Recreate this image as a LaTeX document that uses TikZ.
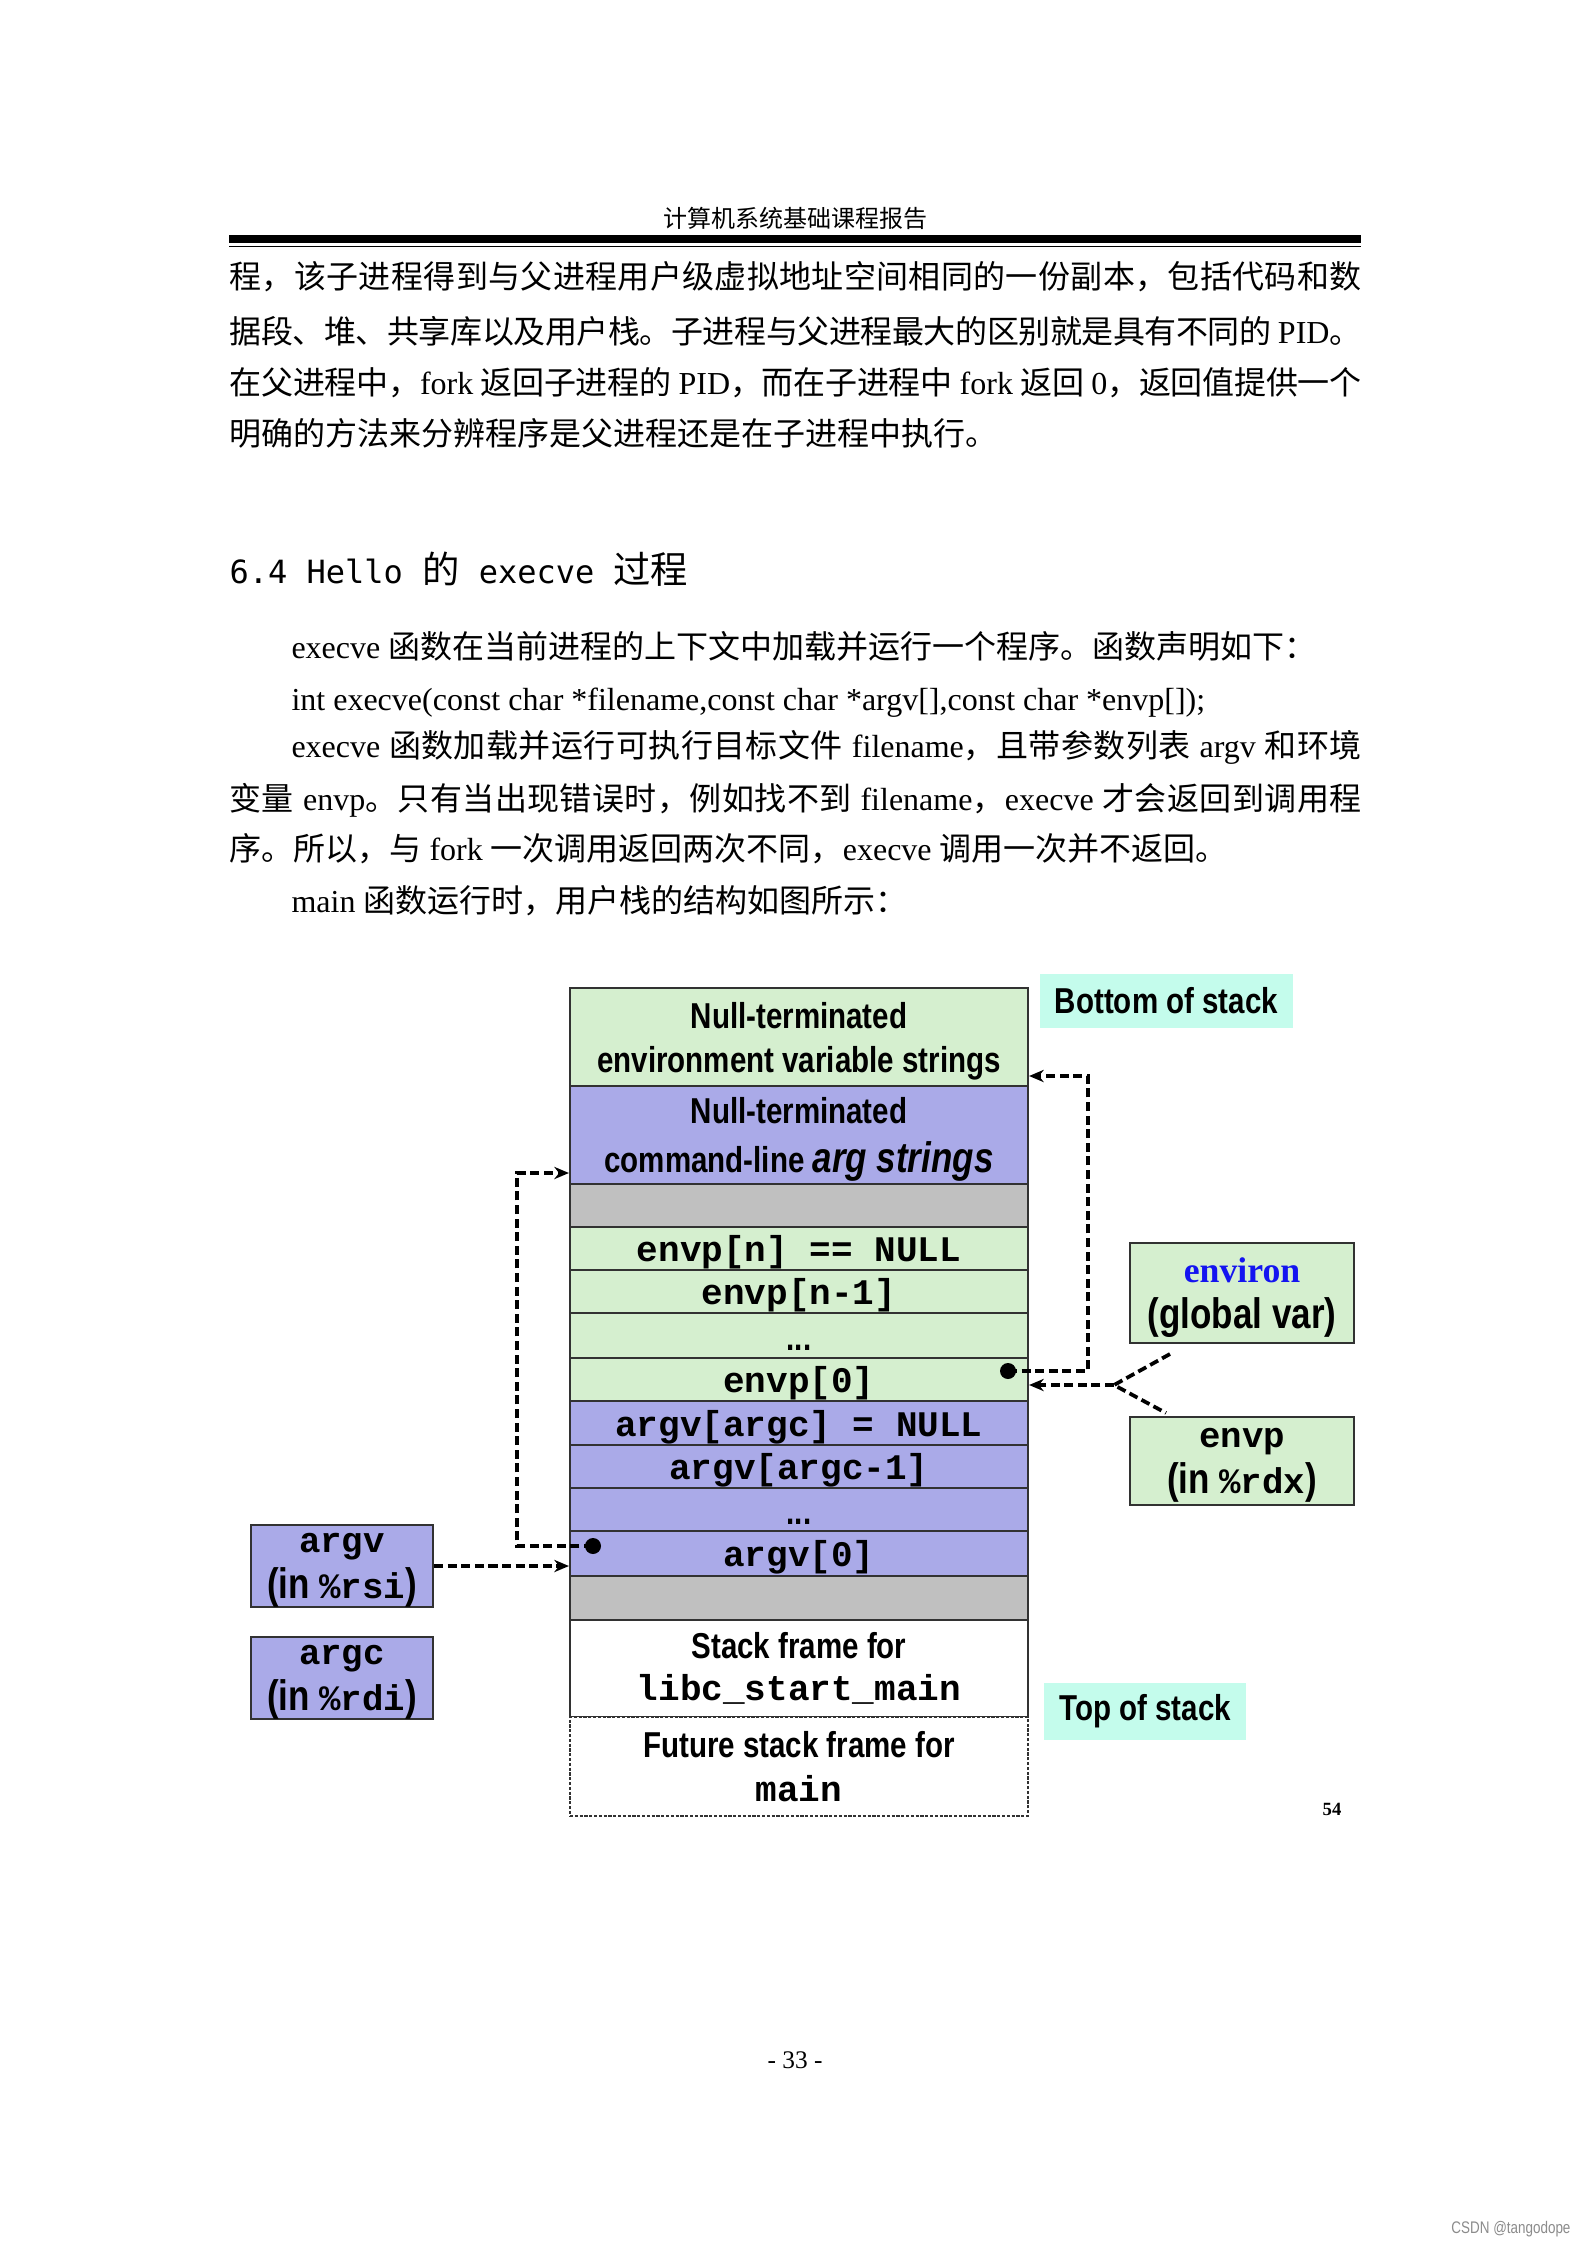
\documentclass[tikz,border=0pt]{standalone}
\usepackage{fontspec}
\setmainfont{Liberation Serif}
\newfontfamily\cjk{Noto Sans CJK SC}
\newfontfamily\nsf{Liberation Sans}[FakeStretch=0.82]
\newfontfamily\tmono{Liberation Mono}
\newfontfamily\hmono{DejaVu Sans Mono}
\newfontfamily\csdnf{Liberation Sans}[FakeStretch=0.8]
\usetikzlibrary{arrows.meta}
\newcommand\zh[1]{{\cjk #1}}
\let\zhend\relax
\def\zhloop#1{\ifx#1\zhend\else#1\hskip0pt plus 1pt minus 0.4pt\relax\expandafter\zhloop\fi}
\newcommand\zhs[1]{{\cjk\zhloop#1\zhend}}
\newcommand\msf{\nsf\bfseries\fontsize{16}{17}\selectfont}
\newcommand\mtt{\tmono\bfseries\fontsize{13.4}{17}\selectfont}
\newcommand\celldots{\vphantom{Ag}\smash{\raisebox{-2.5pt}{...}}}
\definecolor{cgreen}{RGB}{213,239,207}
\definecolor{cpurple}{RGB}{170,170,232}
\definecolor{cgray}{RGB}{192,192,192}
\definecolor{ccyan}{RGB}{196,252,236}
\definecolor{cborder}{RGB}{50,50,50}
\definecolor{cblue}{RGB}{20,20,240}
\begin{document}
\begin{tikzpicture}[x=0.375pt,y=-0.375pt,
  body/.style={anchor=base west, inner sep=0pt, font=\fontsize{12}{14}\selectfont},
  cell/.style={draw=cborder, line width=0.8pt, minimum width=171.75pt, inner sep=0pt, align=center,
    font=\nsf\bfseries\fontsize{13.5}{16.5}\selectfont},
  mcell/.style={cell, text depth=0pt, font=\tmono\bfseries\fontsize{13.5}{16}\selectfont},
  sidebox/.style={draw=cborder, line width=0.8pt, inner sep=0pt, align=center, text depth=-1.8pt, font=\fontsize{16}{17}\selectfont},
  tagbox/.style={fill=ccyan, inner sep=0pt, font=\nsf\bfseries\fontsize{13.5}{16}\selectfont},
  ptr/.style={line width=1.4pt, dash pattern=on 3.4pt off 1.7pt},
  ptrarrow/.style={ptr, -{Stealth[length=5.5pt,width=4.6pt]}},
  dotnode/.style={circle, fill=black, inner sep=0pt, minimum size=6pt}
]
\fill[white] (0,0) rectangle (1587,2245);
\useasboundingbox (0,0) rectangle (1587,2245);

% header
\node[anchor=base, inner sep=0pt, font=\cjk\fontsize{9}{10}\selectfont] (hdr) at (795,227) {计算机系统基础课程报告};
\draw[line width=3.2pt] (229,239) -- (1361,239);
\draw[line width=0.6pt] (229,246.5) -- (1361,246.5);

% paragraph 1
\node[body] (p1a) at (229,288) {\makebox[424.5pt][s]{\zhs{程，该子进程得到与父进程用户级虚拟地址空间相同的一份副本，包括代码和数}\unskip}};
\node[body] (p1b) at (229,343) {\makebox[424.5pt][s]{\zhs{据段、堆、共享库以及用户栈。子进程与父进程最大的区别就是具有不同的} PID\zhs{。}\unskip}};
\node[body] (p1c) at (229,394) {\makebox[424.5pt][s]{\zhs{在父进程中，}fork \zhs{返回子进程的} PID\zhs{，而在子进程中} fork \zhs{返回} 0\zhs{，返回值提供一个}\unskip}};
\node[body] (p1d) at (229,445) {\zh{明确的方法来分辨程序是父进程还是在子进程中执行。}};

% heading
\node[body, font=\fontsize{14}{16}\selectfont] (h64) at (229,583) {{\hmono\fontsize{12}{14}\selectfont 6.4 Hello }\zh{的}{\hmono\fontsize{12}{14}\selectfont\ execve\ }\zh{过程}};

% paragraph 2
\node[body] (p2a) at (291,658) {execve \zh{函数在当前进程的上下文中加载并运行一个程序。函数声明如下：}};
\node[body] (p2b) at (291,710) {int execve(const char *filename,const char *argv[],const char *envp[]);};
\node[body] (p2c) at (291,757) {\makebox[401.25pt][s]{execve \zhs{函数加载并运行可执行目标文件} filename\zhs{，且带参数列表} argv \zhs{和环境}\unskip}};
\node[body] (p2d) at (229,810) {\makebox[424.5pt][s]{\zhs{变量} envp\zhs{。只有当出现错误时，例如找不到} filename\zhs{，}execve \zhs{才会返回到调用程}\unskip}};
\node[body] (p2e) at (229,860) {\zh{序。所以，与} fork \zh{一次调用返回两次不同，}execve \zh{调用一次并不返回。}};
\node[body] (p2f) at (291,912) {main \zh{函数运行时，用户栈的结构如图所示：}};

% stack cells
\node[cell, fill=cgreen, minimum height=36.75pt, text depth=-0.5pt] (envs) at (799,1037) {Null-terminated\\environment variable strings};
\node[cell, fill=cpurple, minimum height=36.75pt, text depth=-0.5pt, font=\nsf\bfseries\fontsize{13.5}{18.4}\selectfont] (args) at (799,1135) {Null-terminated\\command-line {\fontsize{16}{18.4}\selectfont\itshape arg strings}};
\node[cell, fill=cgray, minimum height=16.125pt] (gray1) at (799,1205.5) {};
\node[mcell, fill=cgreen, minimum height=16.125pt] (envn) at (799,1248.5) {envp[n] == NULL};
\node[mcell, fill=cgreen, minimum height=16.125pt] (envn1) at (799,1291.5) {envp[n-1]};
\node[cell, fill=cgreen, minimum height=16.875pt] (envdots) at (799,1335.5) {\celldots};
\node[mcell, fill=cgreen, minimum height=16.125pt] (env0) at (799,1379.5) {envp[0]};
\node[mcell, fill=cpurple, minimum height=16.5pt] (argvc) at (799,1423) {argv[argc] = NULL};
\node[mcell, fill=cpurple, minimum height=16.125pt] (argc1) at (799,1466.5) {argv[argc-1]};
\node[cell, fill=cpurple, minimum height=16.125pt] (argdots) at (799,1509.5) {\celldots};
\node[mcell, fill=cpurple, minimum height=16.875pt] (arg0) at (799,1553.5) {argv[0]};
\node[cell, fill=cgray, minimum height=16.5pt] (gray2) at (799,1598) {};
\node[cell, fill=white, minimum height=36.375pt, font=\nsf\bfseries\fontsize{13.5}{16}\selectfont] (libc) at (799,1668.5) {Stack frame for\\{\tmono\bfseries libc\_start\_main}};
\node[cell, fill=white, line width=0.5pt, dash pattern=on 1.2pt off 0.6pt, minimum height=37.125pt] (future) at (799,1766.5) {Future stack frame for\\{\tmono\bfseries main}};

% tags
\node[tagbox, minimum width=94.9pt, minimum height=20.25pt] (bottom) at (1166.5,1001) {Bottom of stack};
\node[tagbox, minimum width=75.75pt, minimum height=21.4pt] (topst) at (1145,1711.5) {Top of stack};

% side boxes
\node[sidebox, fill=cgreen, minimum width=84pt, minimum height=37.5pt, text depth=-1.2pt] (environ) at (1242,1293)
  {{\bfseries\color{cblue}\fontsize{13.4}{17}\selectfont environ}\\{\msf (global var)}};
\node[sidebox, fill=cgreen, minimum width=84pt, minimum height=33pt] (envpbox) at (1242,1461)
  {{\mtt envp}\\{\msf (in }{\mtt\%rdx}{\msf )}};
\node[sidebox, fill=cpurple, minimum width=68.25pt, minimum height=30.75pt] (argvbox) at (342,1566)
  {{\mtt argv}\\{\msf (in }{\mtt\%rsi}{\msf )}};
\node[sidebox, fill=cpurple, minimum width=68.25pt, minimum height=30.75pt] (argcbox) at (342,1678)
  {{\mtt argc}\\{\msf (in }{\mtt\%rdi}{\msf )}};

% pointers
\node[dotnode] (dotenv) at (1008,1371) {};
\coordinate (envbendA) at (1088,1371);
\coordinate (envbendB) at (1088,1076);
\draw[ptrarrow] (dotenv.center) -- (envbendA) -- (envbendB) -- (envs.east |- envbendB);

\coordinate (vtx) at (1114,1385);
\coordinate (brup) at (1170,1354);
\coordinate (brlo) at (1166,1413);
\draw[ptr] (brup) -- (vtx) -- (brlo);
\draw[ptrarrow] (vtx) -- (env0.east |- vtx);

\node[dotnode] (dotarg) at (593,1546) {};
\coordinate (argA) at (517,1546);
\coordinate (argB) at (517,1173);
\draw[ptrarrow] (dotarg.center) -- (argA) -- (argB) -- (args.west |- argB);

\draw[ptrarrow] (argvbox.east) -- (argvbox.east -| arg0.west);

% page marks
\node[inner sep=0pt, font=\bfseries\fontsize{7}{8}\selectfont] (pg54) at (1332,1809) {54};
\node[anchor=base, inner sep=0pt, font=\fontsize{9.5}{11}\selectfont] (pgno) at (795,2068) {- 33 -};
\node[anchor=east, inner sep=0pt, text=black!45, font=\csdnf\fontsize{6.3}{7}\selectfont] (csdn) at (1571,2229) {CSDN @tangodope};
\end{tikzpicture}
\end{document}
